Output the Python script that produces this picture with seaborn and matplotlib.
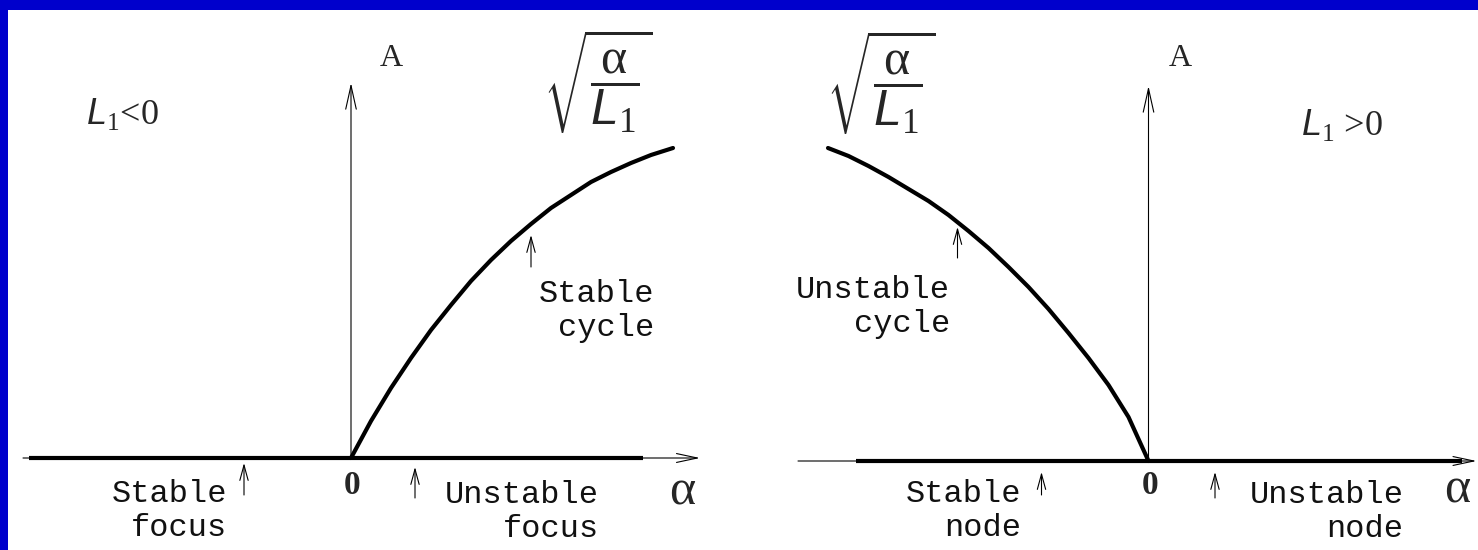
import matplotlib
matplotlib.use("Agg")
import matplotlib.pyplot as plt
from matplotlib.patches import Rectangle
import seaborn as sns
import pandas as pd

# Branch of limit cycles for L1 < 0 (supercritical case): amplitude A vs alpha
left_alpha = [0.0, 0.2, 0.4, 0.6, 0.8, 1.0, 1.2, 1.4, 1.6, 1.8, 2.0, 2.2,
              2.4, 2.6, 2.8, 3.0, 3.22]
left_amp = [0.0, 0.37, 0.70, 1.00, 1.28, 1.53, 1.77, 1.98, 2.17, 2.34, 2.50,
            2.63, 2.76, 2.86, 2.95, 3.03, 3.10]

# Branch of limit cycles for L1 > 0 (subcritical case)
right_alpha = [-3.205, -3.0, -2.8, -2.6, -2.4, -2.2, -2.0, -1.8, -1.6, -1.4,
               -1.2, -1.0, -0.8, -0.6, -0.4, -0.2, 0.0]
right_amp = [3.13, 3.05, 2.95, 2.84, 2.72, 2.60, 2.46, 2.30, 2.13, 1.94,
             1.74, 1.52, 1.28, 1.03, 0.76, 0.44, 0.0]

# Equilibrium branch (A = 0) drawn with a heavy stroke
left_eq_alpha = [-3.22, 2.92]
right_eq_alpha = [-2.925, 3.135]
eq_amp = [0.0, 0.0]

# Axis extents (alpha axis: start, arrow tip; A axis: arrow tip)
left_alpha_axis = (-3.28, 3.49)
right_alpha_axis = (-3.505, 3.28)
amp_axis_top = 3.75

# Regime labels: (text, alpha of right edge, A of block centre)
left_labels = [("Stable\ncycle", 3.03, 1.47),
               ("Stable\nfocus", -1.24, -0.53),
               ("Unstable\nfocus", 2.48, -0.54)]
right_labels = [("Unstable\ncycle", -1.985, 1.54),
                ("Stable\nnode", -1.275, -0.50),
                ("Unstable\nnode", 2.55, -0.51)]

# Pointer arrows: (alpha, A tail, A tip)
left_pointers = [(1.80, 1.91, 2.23), (-1.07, -0.37, -0.05), (0.64, -0.40, -0.09)]
right_pointers = [(-1.91, 2.03, 2.34), (-1.07, -0.34, -0.11), (0.665, -0.37, -0.11)]

sns.set_theme(style="white")
plt.rcParams["font.family"] = ["Liberation Serif", "DejaVu Serif"]
plt.rcParams["mathtext.fontset"] = "custom"
plt.rcParams["mathtext.rm"] = "Liberation Serif"
plt.rcParams["mathtext.it"] = "Liberation Sans:italic"
plt.rcParams["mathtext.bf"] = "Liberation Serif:bold"

W, H = 1478, 550
fig = plt.figure(figsize=(W / 100, H / 100), dpi=100)
fig.patch.set_facecolor("white")

blue = "#0000CC"
fig.patches.append(Rectangle((0, 1 - 10 / H), 1, 10 / H, transform=fig.transFigure,
                             facecolor=blue, edgecolor="none", zorder=0))
fig.patches.append(Rectangle((0, 0), 8 / W, 1, transform=fig.transFigure,
                             facecolor=blue, edgecolor="none", zorder=0))

# Left panel: origin at pixel (351, 458); right panel: origin at (1148.5, 461)
axL = fig.add_axes([8 / W, 0, 732 / W, 540 / H])
axL.set_xlim((8 - 351) / 100, (740 - 351) / 100)
axL.set_ylim((458 - 550) / 100, (458 - 10) / 100)

axR = fig.add_axes([740 / W, 0, 738 / W, 540 / H])
axR.set_xlim((740 - 1148.5) / 100, (1478 - 1148.5) / 100)
axR.set_ylim((461 - 550) / 100, (461 - 10) / 100)

mono = "Liberation Mono"
thick = 3.0
thin = 0.8


def arrow(ax, xy_tail, xy_tip, hl, hw, lw=thin):
    ax.annotate("", xy=xy_tip, xytext=xy_tail,
                arrowprops=dict(arrowstyle=f"->,head_length={hl},head_width={hw}",
                                lw=lw, color="black", shrinkA=0, shrinkB=0,
                                mutation_scale=10))


def panel(ax, c_alpha, c_amp, eq_alpha, axis_x, labels, pointers):
    ax.set_axis_off()
    # coordinate axes with open arrowheads
    arrow(ax, (axis_x[0], 0), (axis_x[1], 0), 1.5, 0.32)
    arrow(ax, (0, 0), (0, amp_axis_top), 1.7, 0.38)
    # equilibrium branch
    sns.lineplot(x=eq_alpha, y=eq_amp, ax=ax, color="black", lw=thick,
                 solid_capstyle="butt", estimator=None, sort=False)
    # limit-cycle branch
    df = pd.DataFrame({"alpha": c_alpha, "A": c_amp})
    sns.lineplot(data=df, x="alpha", y="A", ax=ax, color="black", lw=thick,
                 estimator=None, sort=False, solid_capstyle="round",
                 solid_joinstyle="round")
    for txt, x, y in labels:
        ax.text(x, y, txt, ha="right", va="center", multialignment="right",
                fontfamily=mono, fontsize=23, color="#111111", linespacing=1.17)
    for x, y0, y1 in pointers:
        arrow(ax, (x, y0), (x, y1), 1.1, 0.3)


panel(axL, left_alpha, left_amp, left_eq_alpha, left_alpha_axis, left_labels, left_pointers)
panel(axR, right_alpha, right_amp, right_eq_alpha, right_alpha_axis, right_labels, right_pointers)

sqrt_expr = r"$\sqrt{\dfrac{\mathrm{\alpha}}{L_{\mathrm{1}}}}$"

# Left panel annotations
axL.text(0.40, 4.00, "A", ha="center", va="center", fontsize=23)
axL.text(-2.29, 3.44, r"$L_{\mathrm{1}}$<0", ha="center", va="center", fontsize=26)
axL.text(2.47, 3.76, sqrt_expr, ha="center", va="center", fontsize=36)
axL.text(0.01, -0.27, "0", ha="center", va="center", fontsize=24, fontweight="bold")
axL.text(3.31, -0.34, "α", ha="center", va="center", fontsize=36)

# Right panel annotations
axR.text(0.315, 4.02, "A", ha="center", va="center", fontsize=23)
axR.text(1.935, 3.36, r"$L_{\mathrm{1}}$ >0", ha="center", va="center", fontsize=26)
axR.text(-2.675, 3.78, sqrt_expr, ha="center", va="center", fontsize=36)
axR.text(0.015, -0.25, "0", ha="center", va="center", fontsize=24, fontweight="bold")
axR.text(3.085, -0.29, "α", ha="center", va="center", fontsize=36)

fig.savefig("out.png", dpi=100, facecolor="white")
